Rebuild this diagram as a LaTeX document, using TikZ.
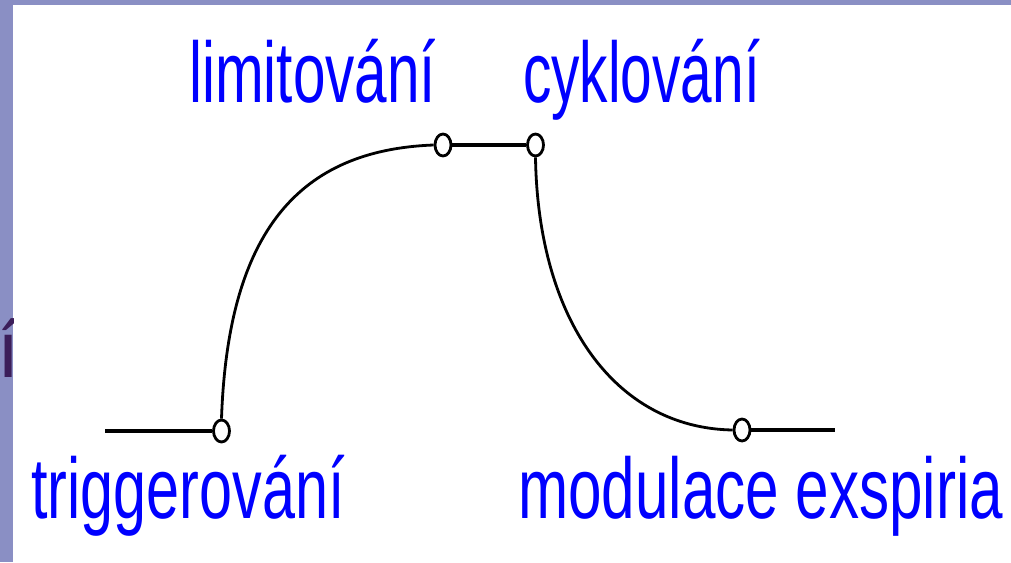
\documentclass[tikz,border=0pt]{standalone}
\usepackage{fontspec}
\setmainfont{Liberation Sans}
\usetikzlibrary{shapes.geometric}
\definecolor{frameC}{HTML}{8A8FC4}
\definecolor{blueT}{HTML}{0000FF}
\definecolor{darkP}{HTML}{3C1E5A}
\begin{document}
\begin{tikzpicture}[x=1pt,y=-1pt,
  lbl/.style={anchor=base west, inner sep=0pt, text=blueT, font=\fontsize{86}{86}\selectfont},
  knot/.style={draw, ellipse, line width=2.8pt, minimum width=16pt, minimum height=22pt, inner sep=0pt, fill=white},
  wire/.style={line width=3.6pt},
  curveln/.style={line width=2.8pt}]
\useasboundingbox (0,0) rectangle (1011,562);
\fill[white] (0,0) rectangle (1011,562);
\fill[frameC] (0,0) rectangle (13,562);
\fill[frameC] (0,0) rectangle (1011,5);
\begin{scope}
\clip (0,0) rectangle (13,562);
\node[anchor=base west, inner sep=0pt, text=darkP, font=\fontsize{80}{80}\selectfont] (frag) at (-3,377) {í};
\end{scope}
% labels
\node[lbl] (limit) at (189,102) {\scalebox{0.68}[1]{limitování}};
\node[lbl] (cykl) at (523,102) {\scalebox{0.66}[1]{cyklování}};
\node[lbl] (trig) at (31,518) {\scalebox{0.69}[1]{triggerování}};
\node[lbl] (modul) at (518,518) {\scalebox{0.70}[1]{modulace exspiria}};
% knots
\node[knot] (k1) at (221.5,431) {};
\node[knot] (k2) at (443,145) {};
\node[knot] (k3) at (535.5,145) {};
\node[knot] (k4) at (742,430) {};
\coordinate (lstart) at (105,431);
\coordinate (rend) at (835,430);
% connectors
\draw[wire] (lstart) -- (k1.west);
\draw[wire] (k2.east) -- (k3.west);
\draw[wire] (k4.east) -- (rend);
\draw[curveln] (k1.north) .. controls (228,230) and (300,150) .. (k2.west);
\draw[curveln] (k3.south) .. controls (538,320) and (615,428) .. (k4.west);
\end{tikzpicture}
\end{document}
